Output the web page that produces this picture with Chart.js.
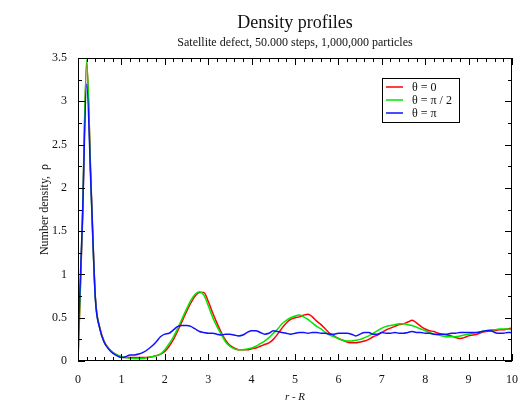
<!DOCTYPE html>
<html><head><meta charset="utf-8">
<script src="https://cdn.jsdelivr.net/npm/chart.js@4.4.1/dist/chart.umd.min.js"></script>
<style>html,body{margin:0;padding:0;background:#fff;}#wrap{width:522px;height:403px;position:relative;}</style>
</head><body><div id="wrap"><canvas id="c" width="522" height="403"></canvas></div>
<script>
const rValues = [0,0.1,0.2,0.3,0.4,0.5,0.6,0.7,0.8,0.9,1,1.1,1.2,1.3,1.4,1.5,1.6,1.7,1.8,1.9,2,2.1,2.2,2.3,2.4,2.5,2.6,2.7,2.8,2.9,3,3.1,3.2,3.3,3.4,3.5,3.6,3.7,3.8,3.9,4,4.1,4.2,4.3,4.4,4.5,4.6,4.7,4.8,4.9,5,5.1,5.2,5.3,5.4,5.5,5.6,5.7,5.8,5.9,6,6.1,6.2,6.3,6.4,6.5,6.6,6.7,6.8,6.9,7,7.1,7.2,7.3,7.4,7.5,7.6,7.7,7.8,7.9,8,8.1,8.2,8.3,8.4,8.5,8.6,8.7,8.8,8.9,9,9.1,9.2,9.3,9.4,9.5,9.6,9.7,9.8,9.9,10];
const rhoTheta0 = [0,1.55,3.45,2.05,0.74,0.39,0.23,0.15,0.10,0.07,0.05,0.04,0.04,0.04,0.04,0.04,0.04,0.05,0.06,0.08,0.11,0.17,0.25,0.35,0.46,0.57,0.67,0.75,0.79,0.79,0.69,0.56,0.44,0.33,0.24,0.18,0.15,0.13,0.13,0.13,0.14,0.15,0.17,0.19,0.21,0.25,0.31,0.38,0.44,0.48,0.50,0.51,0.53,0.54,0.51,0.46,0.42,0.37,0.32,0.29,0.26,0.24,0.22,0.21,0.21,0.22,0.23,0.25,0.28,0.30,0.33,0.36,0.38,0.40,0.42,0.43,0.45,0.47,0.44,0.40,0.37,0.35,0.34,0.32,0.31,0.30,0.29,0.27,0.26,0.27,0.29,0.30,0.31,0.33,0.34,0.35,0.35,0.36,0.36,0.37,0.38];
const rhoThetaHalfPi = [0,1.6,3.48,2.0,0.72,0.38,0.22,0.15,0.10,0.07,0.05,0.04,0.03,0.03,0.03,0.03,0.04,0.05,0.06,0.08,0.13,0.20,0.28,0.38,0.49,0.60,0.70,0.77,0.80,0.76,0.64,0.51,0.40,0.31,0.22,0.17,0.14,0.13,0.13,0.14,0.15,0.17,0.20,0.23,0.27,0.32,0.37,0.43,0.47,0.50,0.52,0.53,0.51,0.48,0.44,0.40,0.37,0.33,0.30,0.28,0.26,0.24,0.23,0.23,0.24,0.25,0.27,0.29,0.32,0.35,0.38,0.40,0.41,0.42,0.43,0.43,0.42,0.41,0.39,0.37,0.35,0.33,0.31,0.30,0.29,0.28,0.28,0.28,0.29,0.30,0.31,0.32,0.33,0.34,0.35,0.36,0.36,0.37,0.37,0.37,0.36];
const rhoThetaPi = [0.2,1.6,3.2,2.0,0.72,0.38,0.22,0.14,0.09,0.06,0.04,0.05,0.07,0.07,0.08,0.10,0.13,0.17,0.22,0.28,0.31,0.32,0.36,0.40,0.41,0.41,0.40,0.37,0.34,0.33,0.32,0.32,0.31,0.30,0.31,0.31,0.30,0.29,0.30,0.33,0.35,0.35,0.33,0.31,0.32,0.35,0.34,0.33,0.32,0.31,0.32,0.33,0.33,0.32,0.33,0.33,0.32,0.32,0.31,0.31,0.32,0.32,0.32,0.31,0.29,0.31,0.33,0.33,0.31,0.31,0.33,0.32,0.32,0.33,0.32,0.32,0.33,0.34,0.33,0.33,0.32,0.32,0.31,0.31,0.31,0.31,0.32,0.32,0.33,0.33,0.33,0.33,0.33,0.34,0.35,0.35,0.33,0.32,0.32,0.33,0.33];
const seriesLabels = ['θ = 0', 'θ = π / 2', 'θ = π'];
const seriesColors = ['#ff0000', '#00e600', '#1010ff'];
const titleText = 'Density profiles';
const subtitleText = 'Satellite defect, 50.000 steps, 1,000,000 particles';
const xAxisLabel = 'r - R';
const yAxisLabel = 'Number density,  ρ';

const SERIF = '"Liberation Serif", "DejaVu Serif", serif';
const seriesData = [rhoTheta0, rhoThetaHalfPi, rhoThetaPi];

const decorations = {
  id: 'decorations',
  afterDatasetsDraw(chart) {
    const {ctx, chartArea: {left, right, top, bottom}, scales: {x, y}} = chart;
    ctx.save();
    ctx.strokeStyle = '#000';
    ctx.lineWidth = 1;
    ctx.strokeRect(left + 0.5, top + 0.5, right - left - 1, bottom - top - 1);
    ctx.beginPath();
    for (let i = 0; i <= 50; i++) {
      const px = Math.round(x.getPixelForValue(i / 5)) + 0.5;
      const len = i % 5 === 0 ? 7 : 4;
      ctx.moveTo(px, bottom); ctx.lineTo(px, bottom - len);
      ctx.moveTo(px, top); ctx.lineTo(px, top + len);
    }
    for (let i = 0; i <= 14; i++) {
      const py = Math.round(y.getPixelForValue(i * 0.25)) + 0.5;
      const len = i % 2 === 0 ? 7 : 4;
      ctx.moveTo(left, py); ctx.lineTo(left + len, py);
      ctx.moveTo(right, py); ctx.lineTo(right - len, py);
    }
    ctx.stroke();
    ctx.restore();
  },
  afterDraw(chart) {
    const {ctx, chartArea: {left, right}} = chart;
    ctx.save();
    ctx.fillStyle = '#111';
    ctx.textAlign = 'center';
    ctx.textBaseline = 'alphabetic';
    const cx = (left + right) / 2;
    ctx.font = '18px ' + SERIF;
    ctx.fillText(titleText, cx, 28);
    ctx.font = '12px ' + SERIF;
    ctx.fillText(subtitleText, cx, 46);
    ctx.strokeStyle = '#000';
    ctx.lineWidth = 1;
    ctx.strokeRect(382.5, 78.5, 77, 44);
    ctx.font = '12px ' + SERIF;
    ctx.textAlign = 'left';
    ctx.textBaseline = 'middle';
    for (let i = 0; i < seriesLabels.length; i++) {
      const ly = 87 + i * 13;
      ctx.strokeStyle = seriesColors[i];
      ctx.lineWidth = 1.5;
      ctx.beginPath(); ctx.moveTo(386, ly); ctx.lineTo(403, ly); ctx.stroke();
      ctx.fillStyle = '#111';
      ctx.fillText(seriesLabels[i], 412, ly + 1);
    }
    ctx.restore();
  }
};

new Chart(document.getElementById('c'), {
  type: 'line',
  data: {
    datasets: seriesData.map((arr, i) => ({
      label: seriesLabels[i],
      data: rValues.map((r, j) => ({x: r, y: arr[j]})),
      borderColor: seriesColors[i],
      borderWidth: 1.5,
      pointRadius: 0,
      fill: false,
      cubicInterpolationMode: 'monotone',
      order: 2 - i
    }))
  },
  options: {
    responsive: false,
    animation: false,
    devicePixelRatio: 1,
    layout: {padding: {top: 58, right: 10, left: 0, bottom: 0}},
    plugins: {legend: {display: false}, tooltip: {enabled: false}, title: {display: false}},
    scales: {
      x: {
        type: 'linear', min: 0, max: 10,
        grid: {display: false},
        border: {display: false},
        ticks: {stepSize: 1, color: '#111', font: {family: SERIF, size: 12}, padding: 4, maxRotation: 0, autoSkip: false,
                callback: v => String(v)},
        title: {display: true, text: xAxisLabel, color: '#111', font: {family: SERIF, size: 11, style: 'italic', lineHeight: 1.0}, padding: {top: 0, bottom: 0}},
        afterFit(s) { s.height = 42; }
      },
      y: {
        type: 'linear', min: 0, max: 3.5,
        grid: {display: false},
        border: {display: false},
        ticks: {stepSize: 0.5, color: '#111', font: {family: SERIF, size: 12}, padding: 3,
                callback: v => String(v)},
        title: {display: true, text: yAxisLabel, color: '#111', font: {family: SERIF, size: 12}, padding: {top: 38, bottom: 0}},
        afterFit(s) { s.width = 78; }
      }
    }
  },
  plugins: [decorations]
});
</script></body></html>
